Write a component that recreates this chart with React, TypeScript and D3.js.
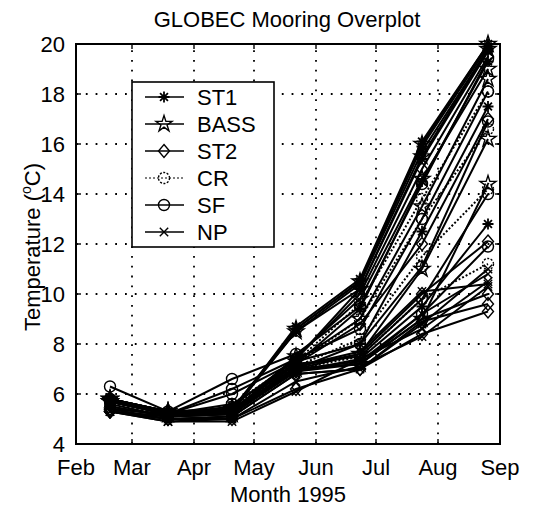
import * as d3 from "d3";

// sample dates (one read per month)
const sampleDates = ["1995-02-18", "1995-03-19", "1995-04-20", "1995-05-22", "1995-06-23", "1995-07-24", "1995-08-26"];
const monthLabels = ["Feb", "Mar", "Apr", "May", "Jun", "Jul", "Aug", "Sep"];
const yTicks = [4, 6, 8, 10, 12, 14, 16, 18, 20];
const moorings = ["ST1", "BASS", "ST2", "CR", "SF", "NP"];

// temperature (deg C) per depth, one row per instrument
const st1 = [
  [5.8, 5.3, 5.3, 8.7, 10.6, 16.1, 20.0],
  [5.8, 5.3, 5.3, 8.6, 10.5, 15.9, 19.9],
  [5.8, 5.3, 5.3, 8.5, 10.4, 15.7, 19.8],
  [5.7, 5.2, 5.3, 7.4, 10.2, 15.4, 19.7],
  [5.7, 5.2, 5.2, 7.2, 9.4, 14.5, 19.3],
  [5.7, 5.2, 5.2, 7.0, 8.0, 12.5, 17.5],
  [5.6, 5.1, 5.2, 6.9, 7.4, 9.5, 12.8],
];
const bass = [
  [5.8, 5.3, 5.4, 8.6, 10.5, 16.0, 20.0],
  [5.8, 5.3, 5.4, 8.5, 10.2, 15.5, 19.8],
  [5.8, 5.3, 5.3, 7.5, 9.8, 14.6, 19.0],
  [5.7, 5.2, 5.3, 7.3, 9.0, 13.5, 18.6],
  [5.7, 5.2, 5.2, 7.1, 7.6, 11.0, 16.2],
  [5.7, 5.2, 5.2, 7.0, 7.2, 9.0, 14.4],
];
const st2 = [
  [5.4, 5.2, 5.5, 7.4, 10.0, 15.0, 19.5],
  [5.4, 5.2, 5.4, 7.2, 8.8, 12.0, 17.0],
  [5.3, 5.1, 5.3, 7.0, 7.6, 10.0, 12.1],
  [5.3, 5.1, 5.2, 6.9, 7.2, 9.0, 10.0],
  [5.3, 5.0, 5.1, 6.8, 7.0, 8.9, 9.6],
  [5.3, 5.0, 5.0, 6.2, 7.0, 8.4, 9.3],
];
const cr = [
  [null, null, 5.6, 7.3, 9.6, 13.8, 18.1],
  [null, null, 5.5, 7.2, 9.0, 13.0, 16.6],
  [null, null, 5.4, 7.1, 8.2, 11.5, 14.2],
  [null, null, 5.3, 7.0, 7.5, 9.8, 11.2],
];
const sf = [
  [6.3, 5.3, 6.6, 7.6, 9.5, 14.4, 19.4],
  [5.8, 5.2, 6.2, 7.4, 8.6, 13.0, 18.1],
  [5.8, 5.2, 6.0, 7.3, 8.0, 11.1, 16.9],
  [5.7, 5.2, 5.6, 7.2, 7.5, 9.8, 14.0],
  [5.7, 5.2, 5.4, 7.0, 7.2, 9.2, 11.9],
];
const np = [
  [5.3, 4.9, 4.9, 6.1, 7.4, 8.6, 10.5],
  [5.3, 4.9, 5.0, 6.5, 7.1, 8.3, 10.3],
  [5.4, 5.0, 5.1, 6.8, 7.0, 8.8, 11.0],
  [5.5, 5.1, 5.2, 7.0, 7.3, 9.2, 10.8],
  [5.5, 5.1, 5.2, 7.1, 7.7, 10.1, 10.4],
];
const seriesByMooring = [st1, bass, st2, cr, sf, np];

const markerOf = ["asterisk", "star", "diamond", "circle", "circle", "cross"];
const dashOf = [null, null, null, "2 2", null, null];

const W = 548;
const H = 507;
const font = "'Liberation Sans', Arial, Helvetica, sans-serif";

function Marker({ kind, x, y, dashed }: { kind: string; x: number; y: number; dashed?: boolean }) {
  const r = 5.5;
  const common = { fill: "none", stroke: "#000", strokeWidth: 1.4 };
  if (kind === "asterisk") {
    const d = r * 0.72;
    return (
      <path
        d={`M${x - r},${y}H${x + r}M${x},${y - r}V${y + r}M${x - d},${y - d}L${x + d},${y + d}M${x - d},${y + d}L${x + d},${y - d}`}
        {...common}
        strokeWidth={1.8}
      />
    );
  }
  if (kind === "star") {
    return <path d={d3.symbol(d3.symbolStar, 80)() ?? ""} transform={`translate(${x},${y})`} {...common} />;
  }
  if (kind === "diamond") {
    return <path d={`M${x},${y - 6.5}L${x + 5.5},${y}L${x},${y + 6.5}L${x - 5.5},${y}Z`} {...common} />;
  }
  if (kind === "cross") {
    const d = 4.2;
    return <path d={`M${x - d},${y - d}L${x + d},${y + d}M${x - d},${y + d}L${x + d},${y - d}`} {...common} />;
  }
  return <circle cx={x} cy={y} r={r} {...common} strokeDasharray={dashed ? "2 1.5" : undefined} />;
}

export default function App() {
  const left = 76, right = 500, top = 44, bottom = 444;
  const x = d3.scaleUtc().domain([new Date("1995-02-01"), new Date("1995-09-01")]).range([left, right]);
  const y = d3.scaleLinear().domain([4, 20]).range([bottom, top]);
  const dates = sampleDates.map((s) => new Date(s));
  const monthTicks = d3.utcMonth.range(new Date("1995-02-01"), new Date("1995-09-02"));

  const line = d3
    .line<number | null>()
    .defined((v) => v != null)
    .x((_, i) => x(dates[i]))
    .y((v) => y(v as number));

  const grid = "1.8 8";

  return (
    <svg width={W} height={H} style={{ position: "absolute", left: 0, top: 0, background: "#fff" }} fontFamily={font}>
      <rect width={W} height={H} fill="#fff" />
      <text x={287} y={27} textAnchor="middle" fontSize={22}>
        GLOBEC Mooring Overplot
      </text>

      {/* grid */}
      <g stroke="#000" strokeWidth={1.8} strokeDasharray={grid}>
        {monthTicks.slice(1, -1).map((m, i) => (
          <line key={"gx" + i} x1={x(m)} x2={x(m)} y1={bottom} y2={top} />
        ))}
        {yTicks.slice(1, -1).map((t) => (
          <line key={"gy" + t} x1={left} x2={right} y1={y(t)} y2={y(t)} />
        ))}
      </g>

      {/* data */}
      <g>
        {seriesByMooring.map((rows, mi) =>
          rows.map((vals, ri) => (
            <g key={`s${mi}-${ri}`}>
              <path
                d={line(vals) ?? ""}
                fill="none"
                stroke="#000"
                strokeWidth={2}
                strokeDasharray={dashOf[mi] ?? undefined}
              />
              {vals.map((v, i) =>
                v == null ? null : (
                  <Marker key={i} kind={markerOf[mi]} x={x(dates[i])} y={y(v)} dashed={dashOf[mi] != null} />
                )
              )}
            </g>
          ))
        )}
      </g>

      {/* axes box and ticks */}
      <rect x={left} y={top} width={right - left} height={bottom - top} fill="none" stroke="#000" strokeWidth={2} />
      <g stroke="#000" strokeWidth={1.4}>
        {monthTicks.map((m, i) => (
          <g key={"tx" + i}>
            <line x1={x(m)} x2={x(m)} y1={bottom} y2={bottom - 5} />
            <line x1={x(m)} x2={x(m)} y1={top} y2={top + 5} />
          </g>
        ))}
        {yTicks.map((t) => (
          <g key={"ty" + t}>
            <line x1={left} x2={left + 5} y1={y(t)} y2={y(t)} />
            <line x1={right} x2={right - 5} y1={y(t)} y2={y(t)} />
          </g>
        ))}
      </g>
      <g fontSize={22}>
        {yTicks.map((t) => (
          <text key={"ly" + t} x={left - 11} y={y(t)} dy="0.36em" textAnchor="end">
            {t}
          </text>
        ))}
        {monthTicks.map((m, i) => (
          <text key={"lx" + i} x={x(m)} y={475} textAnchor="middle">
            {monthLabels[i]}
          </text>
        ))}
        <text x={288} y={502} textAnchor="middle">
          Month 1995
        </text>
        <text transform={`translate(40,247) rotate(-90)`} textAnchor="middle">
          Temperature (
          <tspan fontSize={14} dy={-9}>
            o
          </tspan>
          <tspan dy={9}>C)</tspan>
        </text>
      </g>

      {/* legend */}
      <g>
        <rect x={132} y={82} width={142} height={165} fill="#fff" stroke="#000" strokeWidth={1.6} />
        {moorings.map((name, i) => {
          const ly = 97 + i * 27;
          return (
            <g key={name}>
              <line
                x1={145}
                x2={184}
                y1={ly}
                y2={ly}
                stroke={dashOf[i] ? "#555" : "#000"}
                strokeWidth={1.6}
                strokeDasharray={dashOf[i] ?? undefined}
              />
              <Marker kind={markerOf[i]} x={164} y={ly} dashed={dashOf[i] != null} />
              <text x={197} y={ly} dy="0.36em" fontSize={22}>
                {name}
              </text>
            </g>
          );
        })}
      </g>
    </svg>
  );
}
